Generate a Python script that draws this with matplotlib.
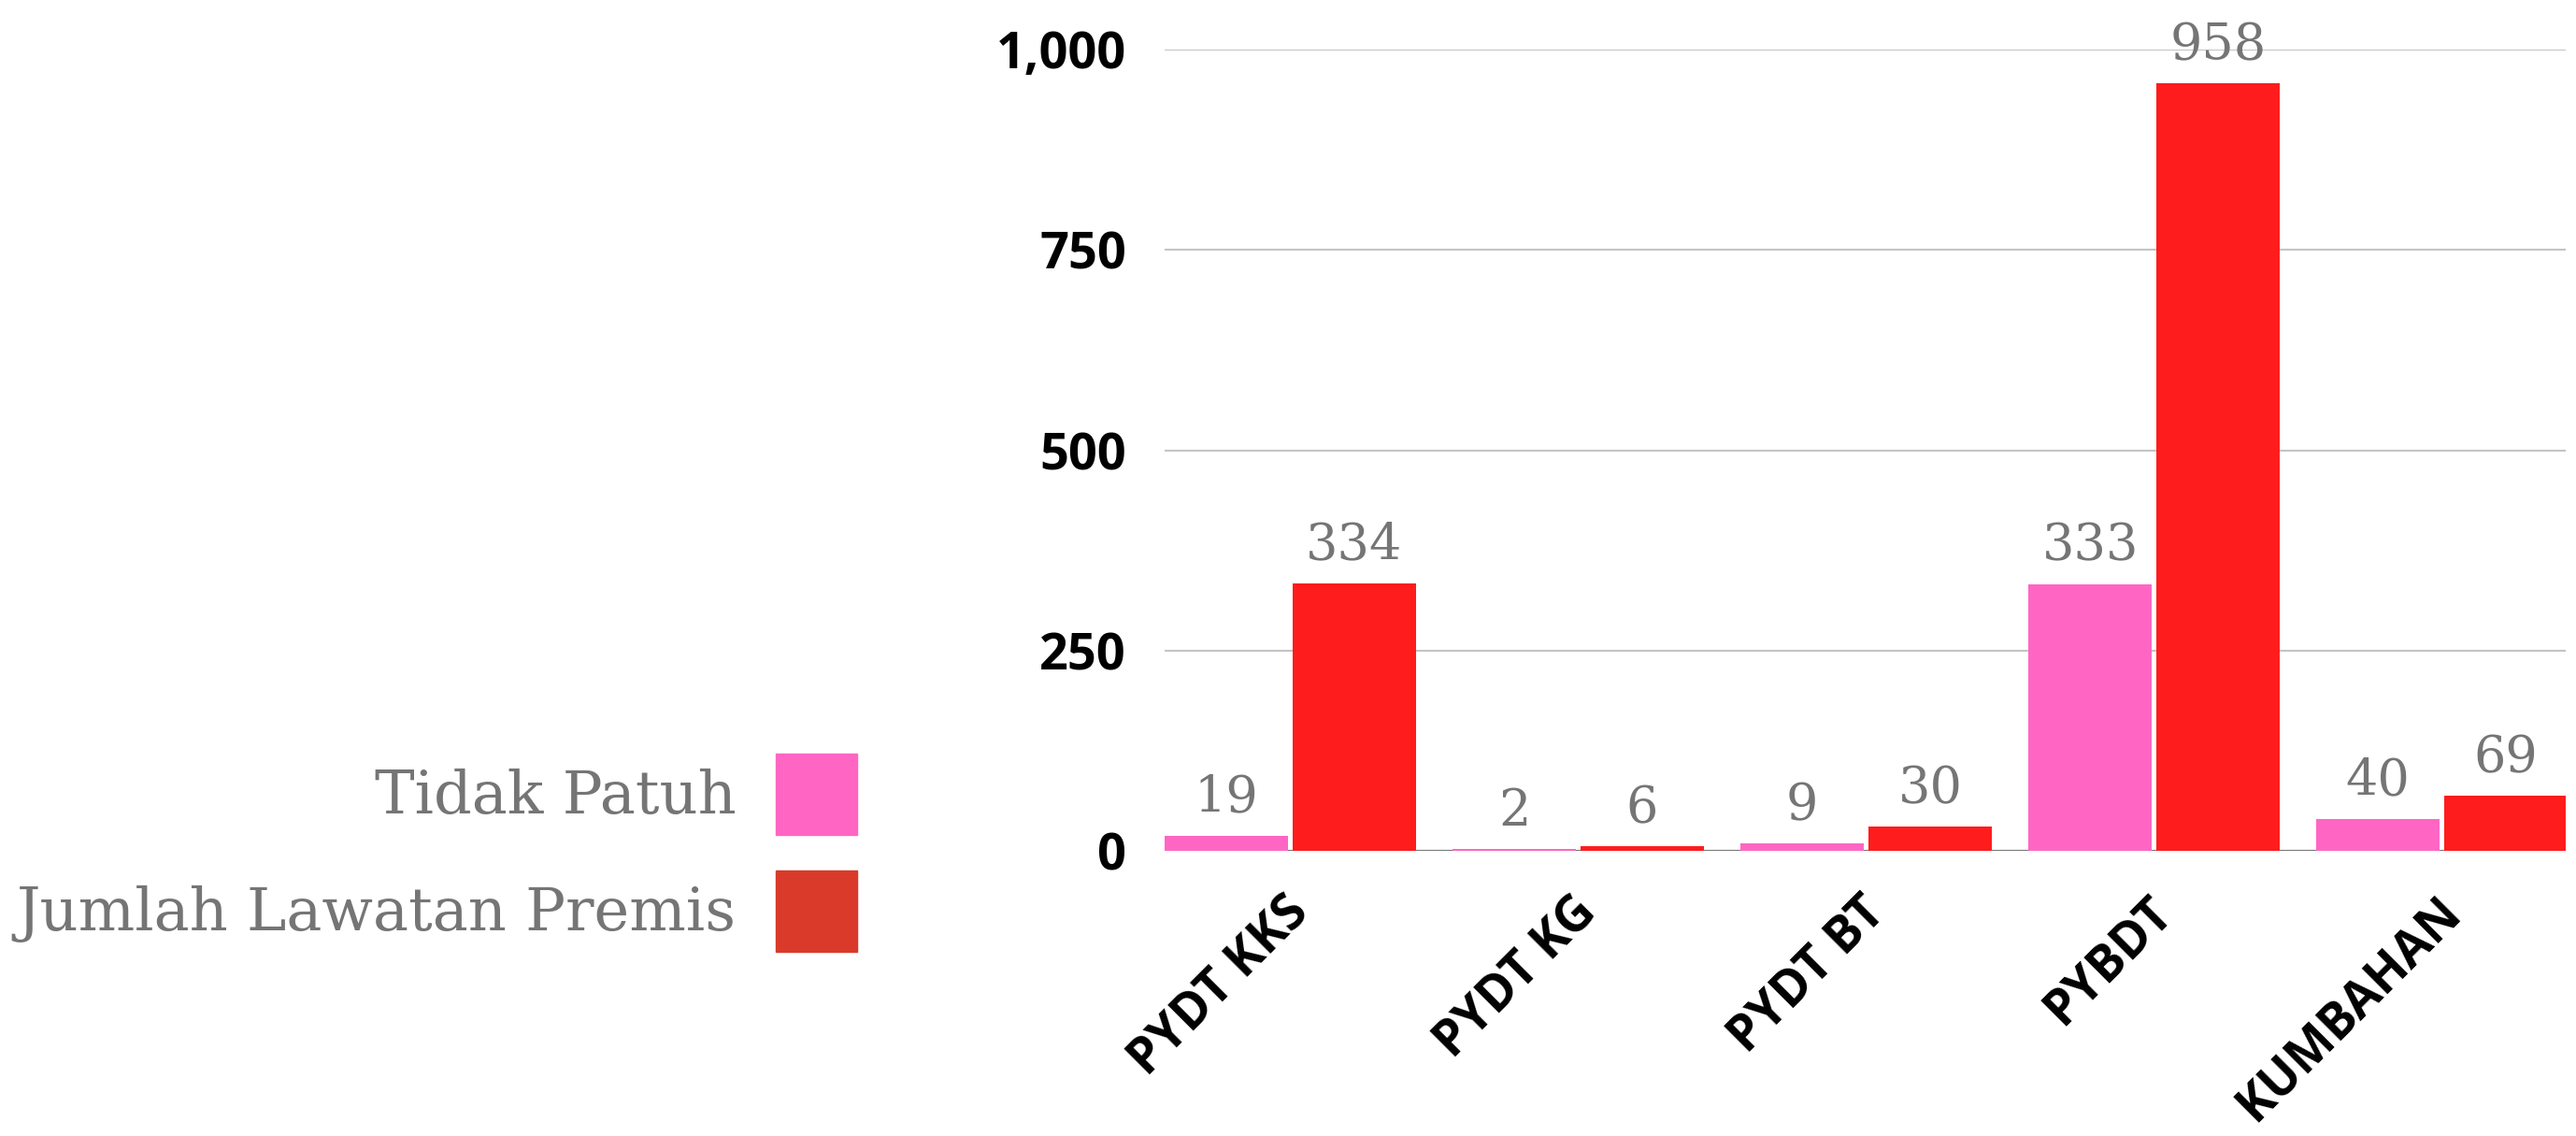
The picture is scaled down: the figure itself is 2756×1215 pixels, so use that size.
import numpy as np
import matplotlib.pyplot as plt
from matplotlib.patches import Patch
from matplotlib.ticker import FuncFormatter
from matplotlib.transforms import ScaledTranslation

categories = ['PYDT KKS', 'PYDT KG', 'PYDT BT', 'PYBDT', 'KUMBAHAN']
tidak_patuh = [19, 2, 9, 333, 40]
jumlah_lawatan = [334, 6, 30, 958, 69]
series_names = ['Tidak Patuh', 'Jumlah Lawatan Premis']
y_ticks = [0, 250, 500, 750, 1000]

pink = '#FF66C4'
red = '#FF1C1C'
legend_red = '#D93A29'
grey = '#757575'

fig = plt.figure(figsize=(27.56, 12.15), dpi=100)
ax = fig.add_axes([0.4521, 0.2510, 0.5439, 0.7054])

x = np.arange(len(categories))
w = 0.43
off = 0.222
b1 = ax.bar(x - off, tidak_patuh, w, color=pink, zorder=3)
b2 = ax.bar(x + off, jumlah_lawatan, w, color=red, zorder=3)

# value labels above bars
for bars, vals in [(b1, tidak_patuh), (b2, jumlah_lawatan)]:
    for rect, v in zip(bars, vals):
        ax.annotate(str(v), (rect.get_x() + rect.get_width() / 2, v),
                    xytext=(0, 18), textcoords='offset points',
                    ha='center', va='baseline', fontsize=39,
                    family='DejaVu Serif', color=grey)

ax.set_xlim(-0.437, 4.43)
ax.set_ylim(0, 1000)
ax.set_yticks(y_ticks)
ax.yaxis.set_major_formatter(FuncFormatter(lambda v, p: f'{v:,.0f}'))
ax.yaxis.grid(True, color='#C4C4C4', lw=1.5, zorder=0)
ax.set_axisbelow(True)
ax.axhline(0, color='#777777', lw=1.5, zorder=2)
for s in ax.spines.values():
    s.set_visible(False)

ax.tick_params(axis='y', length=0, pad=29.5)
ax.tick_params(axis='x', length=0, pad=0)
for lab in ax.get_yticklabels():
    lab.set_fontfamily('Open Sans')
    lab.set_fontweight('bold')
    lab.set_fontsize(39)

ax.set_xticks(x)
ax.set_xticklabels(categories, rotation=45, ha='right', va='center',
                   rotation_mode='anchor', fontsize=38, fontweight='bold',
                   family='Open Sans')
shift = ScaledTranslation(0.12, -0.58, fig.dpi_scale_trans)
for lab in ax.get_xticklabels():
    lab.set_transform(lab.get_transform() + shift)

handles = [Patch(color=pink), Patch(color=legend_red)]
fig.legend(handles, series_names, loc='upper right',
           bbox_to_anchor=(917 / 2756, 1 - 806 / 1215),
           frameon=False, markerfirst=False,
           prop={'family': 'DejaVu Serif', 'size': 46},
           labelcolor=grey, handlelength=1.36, handleheight=1.72,
           handletextpad=0.67, labelspacing=0.59,
           borderpad=0, borderaxespad=0)

fig.savefig('out.png', dpi=100)
